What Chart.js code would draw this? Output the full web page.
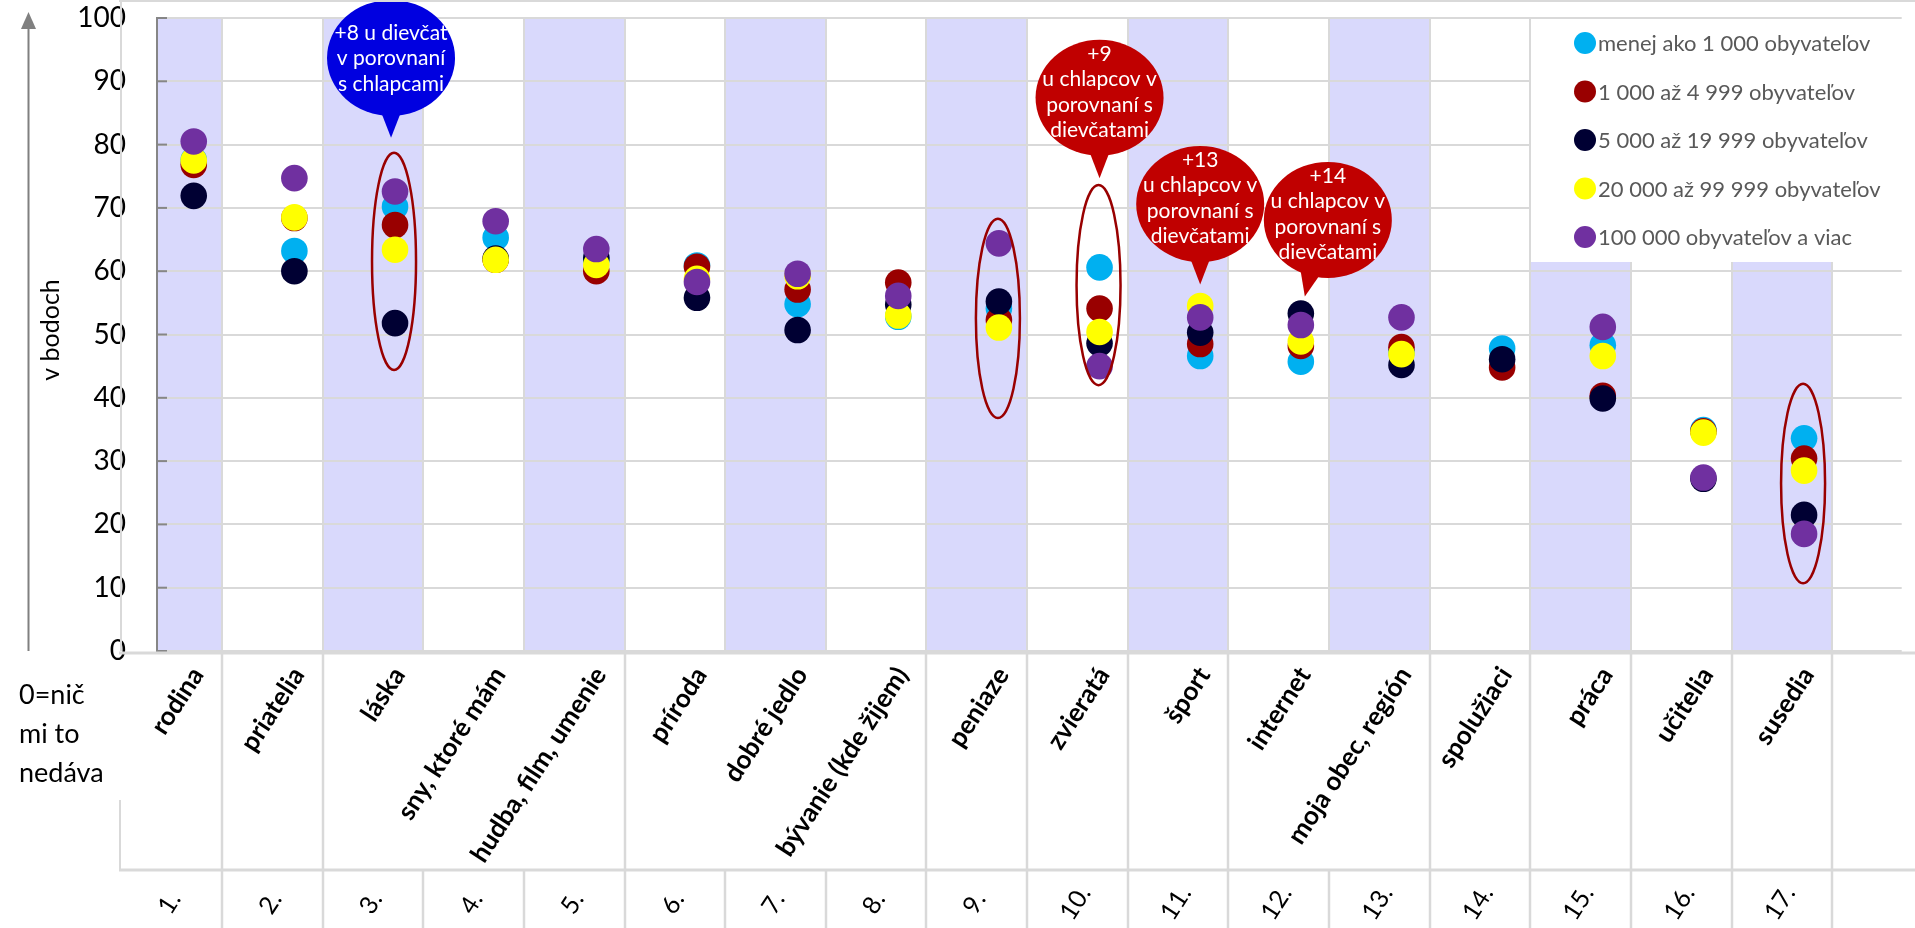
<!DOCTYPE html>
<html>
<head>
<meta charset="utf-8">
<script src="https://cdn.jsdelivr.net/npm/chart.js@4.4.1/dist/chart.umd.min.js"></script>
<style>
  html, body { margin: 0; padding: 0; background: #fff; overflow: hidden; }
  #wrap { width: 1915px; height: 928px; position: relative; }
</style>
</head>
<body>
<div id="wrap"><canvas id="chart" width="1915" height="928"></canvas></div>
<script>
// categories (x axis, upper row) and their rank numbers (lower row)
const categories = ['rodina', 'priatelia', 'láska', 'sny, ktoré mám', 'hudba, film, umenie', 'príroda',
  'dobré jedlo', 'bývanie (kde žijem)', 'peniaze', 'zvieratá', 'šport', 'internet',
  'moja obec, región', 'spolužiaci', 'práca', 'učitelia', 'susedia'];
const ranks = ['1.', '2.', '3.', '4.', '5.', '6.', '7.', '8.', '9.', '10.', '11.', '12.', '13.', '14.', '15.', '16.', '17.'];
const yTicks = [0, 10, 20, 30, 40, 50, 60, 70, 80, 90, 100];

const seriesNames = ['menej ako 1 000 obyvateľov', '1 000 až 4 999 obyvateľov', '5 000 až 19 999 obyvateľov',
  '20 000 až 99 999 obyvateľov', '100 000 obyvateľov a viac'];
const under1000  = [77.6, 63.2, 70.2, 65.3, 61.8, 60.9, 54.8, 52.8, 54.1, 60.6, 46.6, 45.7, 47.2, 47.8, 48.3, 34.9, 33.6];
const to4999     = [76.8, 68.4, 67.3, 61.8, 60.0, 60.7, 57.1, 58.2, 52.3, 54.1, 48.5, 48.2, 48.0, 44.8, 40.3, 34.7, 30.4];
const to19999    = [71.9, 60.0, 51.8, 62.0, 62.1, 55.8, 50.7, 54.7, 55.2, 48.6, 50.3, 53.3, 45.2, 46.1, 39.9, 27.2, 21.5];
const to99999    = [77.5, 68.5, 63.4, 61.8, 61.0, 58.8, 59.2, 53.0, 51.1, 50.4, 54.5, 48.9, 46.9, null, 46.6, 34.5, 28.5];
const over100000 = [80.5, 74.7, 72.6, 67.9, 63.5, 58.3, 59.6, 56.1, 64.4, 45.0, 52.7, 51.5, 52.7, null, 51.2, 27.4, 18.5];

const FONT = "Lato, 'Open Sans', sans-serif";
const colors = ['#00B0F0', '#990000', '#000033', '#FFFF00', '#7030A0'];
const GRID = '#D9D9D9';
const BAND = '#D9D9FC';
const DOT_IN_CELL = 0.72;          // dot sits 72 % across its cell
const noUpperLine = [3, 4, 6, 7, 12]; // label cells that are merged with the next one

// callouts
const ellipses = [
  { cat: 3, top: 78.7, bottom: 44.4 },
  { cat: 9, top: 68.3, bottom: 36.8 },
  { cat: 10, top: 73.6, bottom: 42.0 },
  { cat: 17, top: 42.2, bottom: 10.7 }
];
const bubbles = [
  { cat: 3, dx: -4, cy: 93.7, tip: 81.1, tipDx: -4, color: '#0000E0', lines: ['+8 u dievčat', 'v porovnaní', 's chlapcami'] },
  { cat: 10, dx: 0, cy: 87.4, tip: 74.7, tipDx: 0, color: '#C00000', lines: ['+9', 'u chlapcov v', 'porovnaní s', 'dievčatami'] },
  { cat: 11, dx: 0, cy: 70.6, tip: 57.9, tipDx: 0, color: '#C00000', lines: ['+13', 'u chlapcov v', 'porovnaní s', 'dievčatami'] },
  { cat: 12, dx: 27, cy: 68.1, tip: 56.0, tipDx: 4, baseDx: 12, color: '#C00000', lines: ['+14', 'u chlapcov v', 'porovnaní s', 'dievčatami'] }
];

function toPoints(arr) {
  const pts = [];
  arr.forEach((v, i) => { if (v !== null) pts.push({ x: i + 1, y: v }); });
  return pts;
}

const allSeries = [under1000, to4999, to19999, to99999, over100000];
const datasets = allSeries.map((arr, i) => ({
  label: seriesNames[i],
  data: toPoints(arr),
  backgroundColor: colors[i],
  borderWidth: 0,
  pointRadius: 13.3,
  pointHoverRadius: 13.3,
  order: allSeries.length - i
}));

function line(ctx, x1, y1, x2, y2, color, w) {
  ctx.strokeStyle = color; ctx.lineWidth = w;
  ctx.beginPath(); ctx.moveTo(x1, y1); ctx.lineTo(x2, y2); ctx.stroke();
}

const decor = {
  id: 'decor',
  beforeDraw(chart) {
    const { ctx, chartArea: ca, scales: { x, y } } = chart;
    ctx.save();
    ctx.fillStyle = '#fff';
    ctx.fillRect(0, 0, chart.width, chart.height);
    // shaded columns for odd categories
    ctx.fillStyle = BAND;
    categories.forEach((c, i) => {
      if (i % 2) return;
      const l = Math.max(ca.left, x.getPixelForValue(i + 1 - DOT_IN_CELL));
      const r = x.getPixelForValue(i + 2 - DOT_IN_CELL);
      ctx.fillRect(l, y.getPixelForValue(100), r - l, y.getPixelForValue(0) - y.getPixelForValue(100));
    });
    ctx.restore();
  },
  beforeDatasetsDraw(chart) {
    const { ctx, chartArea: ca, scales: { x, y } } = chart;
    ctx.save();
    for (let k = 1; k <= categories.length; k++) {
      const px = Math.round(x.getPixelForValue(k + 1 - DOT_IN_CELL));
      line(ctx, px, ca.top, px, ca.bottom, GRID, 2);
    }
    // inward tick marks
    yTicks.forEach(t => {
      const py = y.getPixelForValue(t);
      line(ctx, ca.left, py, ca.left + 10, py, '#868686', 2);
    });
    ctx.restore();
  },
  afterDatasetsDraw(chart) {
    const { ctx, scales: { x, y } } = chart;
    ctx.save();
    ellipses.forEach(e => {
      const cx = x.getPixelForValue(e.cat) - 1;
      const t = y.getPixelForValue(e.top), b = y.getPixelForValue(e.bottom);
      ctx.strokeStyle = '#990000'; ctx.lineWidth = 2.5;
      ctx.beginPath(); ctx.ellipse(cx, (t + b) / 2, 22, (b - t) / 2, 0, 0, Math.PI * 2); ctx.stroke();
    });
    bubbles.forEach(bb => {
      const dotX = x.getPixelForValue(bb.cat);
      const cx = dotX + bb.dx, cy = y.getPixelForValue(bb.cy);
      const tipX = dotX + bb.tipDx, tipY = y.getPixelForValue(bb.tip);
      const rx = 64, ry = 58;
      const baseX = bb.baseDx !== undefined ? dotX + bb.baseDx : tipX;
      ctx.fillStyle = bb.color;
      ctx.beginPath(); ctx.ellipse(cx, cy, rx, ry, 0, 0, Math.PI * 2); ctx.fill();
      ctx.beginPath();
      ctx.moveTo(baseX - 13, cy + ry * 0.8); ctx.lineTo(baseX + 13, cy + ry * 0.8); ctx.lineTo(tipX, tipY);
      ctx.closePath(); ctx.fill();
      ctx.fillStyle = '#fff';
      ctx.font = '21px ' + FONT;
      ctx.textAlign = 'center'; ctx.textBaseline = 'middle';
      const n = bb.lines.length;
      const start = n === 3 ? cy - 25 : cy - 44;
      bb.lines.forEach((s, i) => ctx.fillText(s, cx, start + i * 25.5));
    });
    ctx.restore();
  },
  afterDraw(chart) {
    const { ctx, chartArea: ca, scales: { x, y } } = chart;
    const W = chart.width, H = chart.height;
    const bnd = k => Math.round(x.getPixelForValue(k + 1 - DOT_IN_CELL));
    ctx.save();

    // legend box
    const lx = 1531, ly = 19, lb = 262;
    ctx.fillStyle = '#fff';
    ctx.fillRect(lx, ly, W - lx, lb - ly);
    ctx.font = '22px ' + FONT;
    ctx.textAlign = 'left'; ctx.textBaseline = 'middle';
    seriesNames.forEach((s, i) => {
      const cy = 43 + i * 48.5;
      ctx.fillStyle = colors[i];
      ctx.beginPath(); ctx.arc(1585, cy, 11, 0, Math.PI * 2); ctx.fill();
      ctx.fillStyle = '#595959';
      ctx.fillText(s, 1598, cy + 1);
    });

    // frame and label table
    const frameL = bnd(0);
    line(ctx, frameL - 2, 1, W, 1, GRID, 2);
    line(ctx, frameL, 1, frameL, ca.bottom, GRID, 2);
    line(ctx, frameL - 2, ca.bottom + 2, W, ca.bottom + 2, GRID, 3);
    const rowY = 870;
    line(ctx, frameL - 2, rowY, W, rowY, GRID, 3);
    line(ctx, frameL - 1, 800, frameL - 1, rowY, GRID, 2);
    for (let k = 1; k <= categories.length; k++) {
      if (!noUpperLine.includes(k)) line(ctx, bnd(k), ca.bottom + 2, bnd(k), rowY, GRID, 2.5);
      line(ctx, bnd(k), rowY, bnd(k), H, GRID, 2.5);
    }

    // category labels
    const ang = -57 * Math.PI / 180;
    ctx.fillStyle = '#000';
    categories.forEach((c, i) => {
      const px = x.getPixelForValue(i + 1);
      ctx.save();
      ctx.translate(px + 4, 670);
      ctx.rotate(ang);
      ctx.font = 'bold 26px ' + FONT;
      ctx.textAlign = 'right'; ctx.textBaseline = 'middle';
      ctx.fillText(c, 0, 0);
      ctx.restore();
    });
    ranks.forEach((r, i) => {
      const px = (bnd(i) + bnd(i + 1)) / 2;
      ctx.save();
      ctx.translate(px - 2, 903);
      ctx.rotate(ang);
      ctx.font = '25px ' + FONT;
      ctx.textAlign = 'center'; ctx.textBaseline = 'middle';
      ctx.fillText(r, 0, 0);
      ctx.restore();
    });

    // left notes
    ctx.font = '27px ' + FONT;
    ctx.textAlign = 'left'; ctx.textBaseline = 'middle';
    ['0=nič', 'mi to', 'nedáva'].forEach((s, i) => ctx.fillText(s, 19, 695 + i * 39));

    ctx.save();
    ctx.translate(51, 330);
    ctx.rotate(-Math.PI / 2);
    ctx.font = '25px ' + FONT;
    ctx.textAlign = 'center';
    ctx.fillText('v bodoch', 0, 0);
    ctx.restore();

    // up arrow
    line(ctx, 28.5, 26, 28.5, ca.bottom, '#808080', 2);
    ctx.fillStyle = '#808080';
    ctx.beginPath(); ctx.moveTo(28.5, 12); ctx.lineTo(36, 29); ctx.lineTo(21, 29); ctx.closePath(); ctx.fill();

    ctx.restore();
  }
};

new Chart(document.getElementById('chart').getContext('2d'), {
  type: 'scatter',
  data: { datasets },
  options: {
    responsive: false,
    animation: false,
    devicePixelRatio: 1,
    layout: { padding: { top: 18, left: 0, right: 0, bottom: 0 } },
    plugins: { legend: { display: false }, tooltip: { enabled: false } },
    scales: {
      x: {
        type: 'linear', min: 0.635, max: 17.97,
        ticks: { display: false },
        grid: { display: false },
        border: { display: false },
        afterFit(s) { s.height = 277; s.paddingLeft = 0; s.paddingRight = 0; }
      },
      y: {
        min: 0, max: 100,
        afterBuildTicks(s) { s.ticks = yTicks.map(v => ({ value: v })); },
        ticks: { padding: 31, color: '#000', font: { family: FONT, size: 28 } },
        grid: { color: GRID, lineWidth: 2, drawTicks: false },
        border: { display: true, color: '#868686', width: 2 },
        afterFit(s) { s.width = 157; s.paddingTop = 0; s.paddingBottom = 0; }
      }
    }
  },
  plugins: [decor]
});
</script>
</body>
</html>
